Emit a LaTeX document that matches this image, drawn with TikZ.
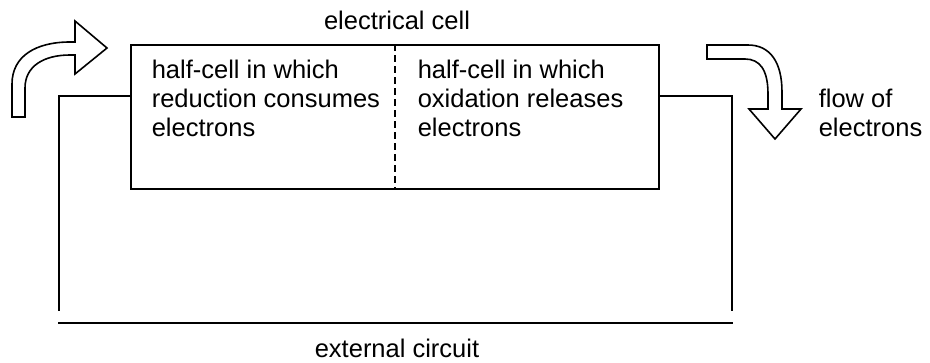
\documentclass[tikz,border=0pt]{standalone}
\usepackage{fontspec}
\setmainfont{Liberation Sans}
\begin{document}
\begin{tikzpicture}[x=1pt,y=-1pt,line width=1.6pt,
  txt/.style={font=\fontsize{25.5}{29}\selectfont,inner sep=0pt},
  bigarrow/.style={draw,line width=1.6pt,line join=miter,fill=white},
  wire/.style={draw,line width=1.6pt}]
\useasboundingbox (0,0) rectangle (930,362);
% cell box
\node[draw,line width=1.6pt,minimum width=528pt,minimum height=144pt,inner sep=0pt] (cell) at (395,117) {};
\draw[line width=1.2pt,dash pattern=on 7pt off 4pt] (cell.north) -- (cell.south);
% texts
\node[txt,anchor=base] (title) at (397,29) {electrical cell};
\node[txt,anchor=north west,align=left] (redtxt) at (151,59) {half-cell in which\\reduction consumes\\electrons};
\node[txt,anchor=north west,align=left] (oxtxt) at (417,59) {half-cell in which\\oxidation releases\\electrons};
\node[txt,anchor=north west,align=left] (flowtxt) at (818,88) {flow of\\electrons};
\node[txt,anchor=base] (exttxt) at (397,357) {external circuit};
% wires
\coordinate (lw) at (59,96);
\coordinate (lb) at (59,311);
\coordinate (rw) at (732,96);
\coordinate (rb) at (732,311);
\coordinate (bl) at (58,323);
\coordinate (br) at (733,323);
\draw[wire] (cell.west |- lw) -- (lw) -- (lb);
\draw[wire] (cell.east |- rw) -- (rw) -- (rb);
\draw[wire] (bl) -- (br);
% left curved arrow
\draw[bigarrow] (12,117) -- (12,84) .. controls (12,56) and (36,42) .. (70,42)
  -- (75,42) -- (75,21) -- (107,48) -- (75,74) -- (75,55) -- (70,55)
  .. controls (44,55) and (25,66) .. (25,88) -- (25,117) -- cycle;
% right curved arrow
\draw[bigarrow] (707,45) -- (748,45) .. controls (770,45) and (782,62) .. (782,92)
  -- (782,109) -- (801,109) -- (775,139) -- (749,109) -- (768,109) -- (768,94)
  .. controls (768,70) and (760,59) .. (745,59) -- (707,59) -- cycle;
\end{tikzpicture}
\end{document}
